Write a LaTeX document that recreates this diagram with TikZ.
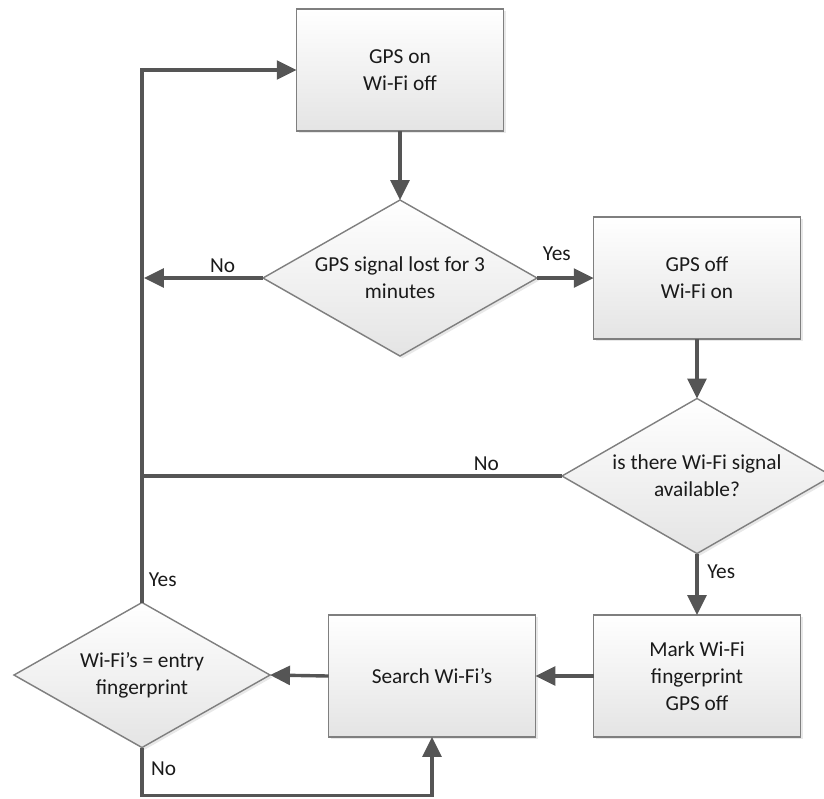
\documentclass[tikz,border=0pt]{standalone}
\usepackage{fontspec}
\setmainfont{Carlito}
\usepackage{xcolor}
\usetikzlibrary{arrows.meta,positioning,shapes.geometric,shadows}
\definecolor{Wire}{HTML}{555555}
\definecolor{Edge}{HTML}{7F7F7F}
\definecolor{Fog}{HTML}{E4E4E4}
\definecolor{Ink}{HTML}{1A1A1A}
\tikzset{
  txt/.style={text=Ink, font=\fontsize{18.2}{23}\selectfont},
  box/.style={txt, draw=Edge, line width=1.2pt, top color=white, bottom color=Fog,
    minimum width=6.2cm, minimum height=3.66cm, align=center, outer sep=0pt,
    drop shadow={shadow xshift=2pt, shadow yshift=-2pt, opacity=.18}},
  decision/.style={box, diamond, aspect=1.76, inner sep=0pt},
  wire/.style={draw=Wire, line width=2.9pt},
  flow/.style={wire, -{Triangle[length=17pt,width=16pt]}},
  lbl/.style={txt}
}

\begin{document}
\begin{tikzpicture}[x=0.03cm, y=-0.03cm]
    \useasboundingbox (0,0) rectangle (824,798);
    \node[box] (gpsOn) at (400,70) {GPS on\\Wi-Fi off};
    \node[decision, minimum width=8.22cm, minimum height=4.68cm] (lost) at (400,278) {GPS signal lost for 3\\minutes};
    \node[box] (gpsOff) at (697,278) {GPS off\\Wi-Fi on};
    \node[decision, minimum width=8.1cm, minimum height=4.65cm] (wifiAvail) at (697,476) {is there Wi-Fi signal\\available?};
    \node[box] (mark) at (697,676) {Mark Wi-Fi\\fingerprint\\GPS off};
    \node[box] (search) at (432,676) {Search Wi-Fi’s};
    \node[decision, aspect=1.77, minimum width=7.68cm, minimum height=4.35cm] (match) at (142,675) {Wi-Fi’s = entry\\fingerprint};
    \coordinate (trunkNo) at (144,278);
    \coordinate (trunkWifi) at (142,476);
    \coordinate (trunkLost) at (142,278);
    \draw[flow] (gpsOn.south) -- (lost.north);
    \draw[flow] (lost.east) -- node[lbl, above=10pt, pos=.35] (yesLost) {Yes} (gpsOff.west);
    \draw[flow] (lost.west) -- node[lbl, above, pos=.34] (noLost) {No} (trunkNo);
    \draw[flow] (gpsOff.south) -- (wifiAvail.north);
    \draw[wire] (wifiAvail.west) -- node[lbl, above, pos=.18] (noWifi) {No} (trunkWifi);
    \draw[flow] (wifiAvail.south) -- node[lbl, right=4pt, pos=.3] (yesWifi) {Yes} (mark.north);
    \draw[flow] (mark.west) -- (search.east);
    \draw[flow] (search.west) -- (match.east);
    \draw[flow] (match.north) -- node[lbl, right=1pt, pos=.18] (yesMatch) {Yes} (trunkWifi) -- (trunkLost) |- (gpsOn.west);
    \draw[flow] (match.south) -- node[lbl, right=3pt, pos=.45] (noMatch) {No} ++(0,48) -| (search.south);
\end{tikzpicture}
\end{document}
